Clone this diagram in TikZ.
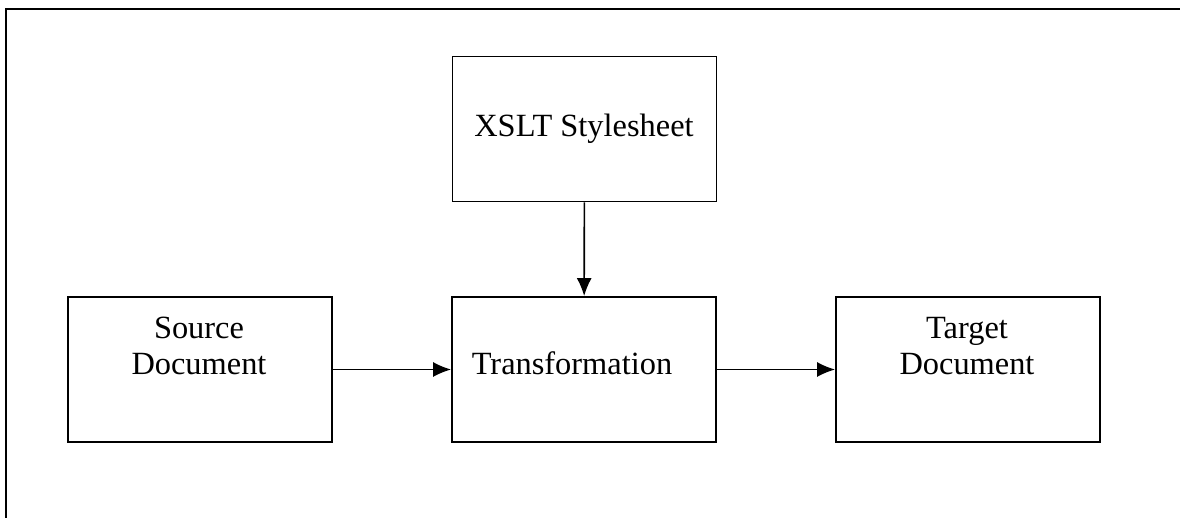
\documentclass[tikz,border=0pt]{standalone}
\usepackage{fontspec}
\setmainfont{Liberation Serif}
\usetikzlibrary{arrows.meta,positioning}

\begin{document}
\begin{tikzpicture}[x=0.5pt,y=-0.5pt,
    box/.style={draw, rectangle, line width=0.9pt, minimum width=132pt, minimum height=72.5pt, inner sep=0pt},
    txt/.style={align=center, inner sep=0pt, font=\fontsize{16.2}{17.8}\selectfont},
    flow/.style={-{Latex[length=9pt,width=7.5pt]}, line width=0.8pt}]
  \useasboundingbox (0,0) rectangle (1180,518);
  % frame
  \draw[line width=1pt] (6,518) -- (6,9) -- (1180,9);
  % boxes
  \node[box] (xslt) at (584.5,129) {};
  \node[box] (trans) at (584,369.5) {};
  \node[box] (src) at (200,369.5) {};
  \node[box] (tgt) at (968,369.5) {};
  % texts
  \node[txt, anchor=base] (xsltlabel) at (584,137) {XSLT Stylesheet};
  \node[txt, anchor=base] (translabel) at (572,375) {Transformation};
  \node[txt, anchor=north] (srclabel) at (199,317) {Source\\Document};
  \node[txt, anchor=north] (tgtlabel) at (967,317) {Target\\Document};
  % arrows
  \draw[flow] (xslt) -- (trans);
  \draw[flow] (src) -- (trans);
  \draw[flow] (trans) -- (tgt);
\end{tikzpicture}
\end{document}
